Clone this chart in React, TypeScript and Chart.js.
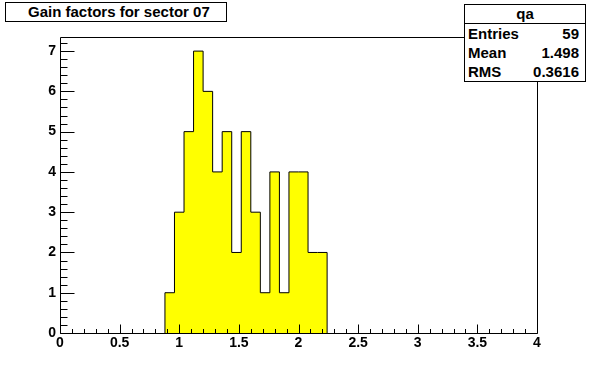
import { useEffect, useRef } from "react";
import { Chart, registerables } from "chart.js";

Chart.register(...registerables);

// ---- data ----
const binLowEdges = [0.88, 0.96, 1.04, 1.12, 1.2, 1.28, 1.36, 1.44, 1.52, 1.6, 1.68, 1.76, 1.84, 1.92, 2.0, 2.08, 2.16];
const binCounts = [1, 3, 5, 7, 6, 4, 5, 2, 5, 3, 1, 4, 1, 4, 4, 2, 2];
const binWidth = 0.08;
const xTickValues = [0, 0.5, 1, 1.5, 2, 2.5, 3, 3.5, 4];
const yTickValues = [0, 1, 2, 3, 4, 5, 6, 7];
const xMin = 0;
const xMax = 4;
const yMin = 0;
const yMax = 7.35;
const xMinorStep = 0.1;
const yMinorStep = 0.2;
const histTitle = "Gain factors for sector 07";
const statsName = "qa";
const statsLabels = ["Entries", "Mean", "RMS"];
const statsValues = ["59", "1.498", "0.3616"];

const FONT = "'Liberation Sans', Arial, Helvetica, sans-serif";

const rootFrame = {
  id: "rootFrame",
  afterDatasetsDraw(chart: any) {
    const { ctx, chartArea: a, scales } = chart;
    const xs = scales.x;
    const ys = scales.y;
    ctx.save();
    ctx.strokeStyle = "#000";
    ctx.lineWidth = 1;
    ctx.beginPath();
    const L = Math.round(a.left) + 0.5;
    const R = Math.round(a.right) + 0.5;
    const T = Math.round(a.top) + 0.5;
    const B = Math.round(a.bottom) + 0.5;
    ctx.moveTo(L, T);
    ctx.lineTo(R, T);
    ctx.lineTo(R, B);
    ctx.lineTo(L, B);
    ctx.closePath();
    const nx = Math.round((xMax - xMin) / xMinorStep);
    for (let i = 0; i <= nx; i++) {
      const v = xMin + i * xMinorStep;
      const px = Math.round(xs.getPixelForValue(v)) + 0.5;
      const len = i % 5 === 0 ? 9 : 4.5;
      ctx.moveTo(px, B);
      ctx.lineTo(px, B - len);
    }
    for (let i = 0; ; i++) {
      const v = yMin + i * yMinorStep;
      if (v > yMax + 1e-9) break;
      const py = Math.round(ys.getPixelForValue(v)) + 0.5;
      const len = i % 5 === 0 ? 14 : 7;
      ctx.moveTo(L, py);
      ctx.lineTo(L + len, py);
    }
    ctx.stroke();
    ctx.restore();
  },
};

export default function App() {
  const canvasRef = useRef<HTMLCanvasElement | null>(null);

  useEffect(() => {
    document.body.style.margin = "0";
    const canvas = canvasRef.current;
    if (!canvas) return;
    const last = binLowEdges.length - 1;
    const points = [
      { x: binLowEdges[0], y: 0 },
      ...binLowEdges.map((x, i) => ({ x, y: binCounts[i] })),
      { x: binLowEdges[last] + binWidth, y: 0 },
    ];
    const tickFont = { family: FONT, size: 14, weight: "bold" as const };
    const chart = new Chart(canvas, {
      type: "line",
      data: {
        datasets: [
          {
            data: points,
            stepped: "before",
            fill: "origin",
            backgroundColor: "#ffff00",
            borderColor: "#000000",
            borderWidth: 1,
            pointRadius: 0,
            tension: 0,
          },
        ],
      },
      options: {
        animation: false,
        responsive: false,
        devicePixelRatio: 1,
        layout: { padding: { top: 37, right: 59, left: 0, bottom: 0 } },
        plugins: {
          legend: { display: false },
          tooltip: { enabled: false },
          title: { display: false },
        },
        scales: {
          x: {
            type: "linear",
            min: xMin,
            max: xMax,
            grid: { display: false, drawTicks: false },
            border: { display: false },
            ticks: {
              color: "#000",
              font: tickFont,
              padding: 2,
              maxRotation: 0,
              autoSkip: false,
              callback: (v: any) => String(Number(v)),
            },
            afterBuildTicks: (s: any) => {
              s.ticks = xTickValues.map((v) => ({ value: v }));
            },
            afterFit: (s: any) => {
              s.height = 39;
            },
          },
          y: {
            type: "linear",
            min: yMin,
            max: yMax,
            grid: { display: false, drawTicks: false },
            border: { display: false },
            ticks: {
              color: "#000",
              font: tickFont,
              padding: 4,
              autoSkip: false,
              callback: (v: any) => String(Number(v)),
            },
            afterBuildTicks: (s: any) => {
              s.ticks = yTickValues.map((v) => ({ value: v }));
            },
            afterFit: (s: any) => {
              s.width = 60;
            },
          },
        },
      },
      plugins: [rootFrame],
    });
    return () => chart.destroy();
  }, []);

  const boxText: React.CSSProperties = {
    fontFamily: FONT,
    fontWeight: "bold",
    fontSize: 15,
    color: "#000",
  };

  return (
    <div style={{ position: "relative", width: 596, height: 372, background: "#fff", overflow: "hidden" }}>
      <canvas ref={canvasRef} width={596} height={372} style={{ display: "block", width: 596, height: 372 }} />
      <div
        style={{
          ...boxText,
          position: "absolute",
          left: 5,
          top: 2,
          width: 222,
          height: 20,
          boxSizing: "border-box",
          border: "1px solid #000",
          background: "#fff",
          textAlign: "left",
          paddingLeft: 22,
          lineHeight: "18px",
          whiteSpace: "nowrap",
          overflow: "hidden",
        }}
      >
        {histTitle}
      </div>
      <div
        style={{
          ...boxText,
          position: "absolute",
          left: 464,
          top: 4,
          width: 122,
          height: 78,
          boxSizing: "border-box",
          border: "1px solid #000",
          background: "#fff",
        }}
      >
        <div style={{ height: 19, lineHeight: "18px", textAlign: "center", borderBottom: "1px solid #000", boxSizing: "border-box" }}>
          {statsName}
        </div>
        {statsLabels.map((lab, i) => (
          <div key={lab} style={{ display: "flex", justifyContent: "space-between", height: 19, lineHeight: "19px", paddingLeft: 3, paddingRight: 6 }}>
            <span>{lab}</span>
            <span>{statsValues[i]}</span>
          </div>
        ))}
      </div>
    </div>
  );
}
